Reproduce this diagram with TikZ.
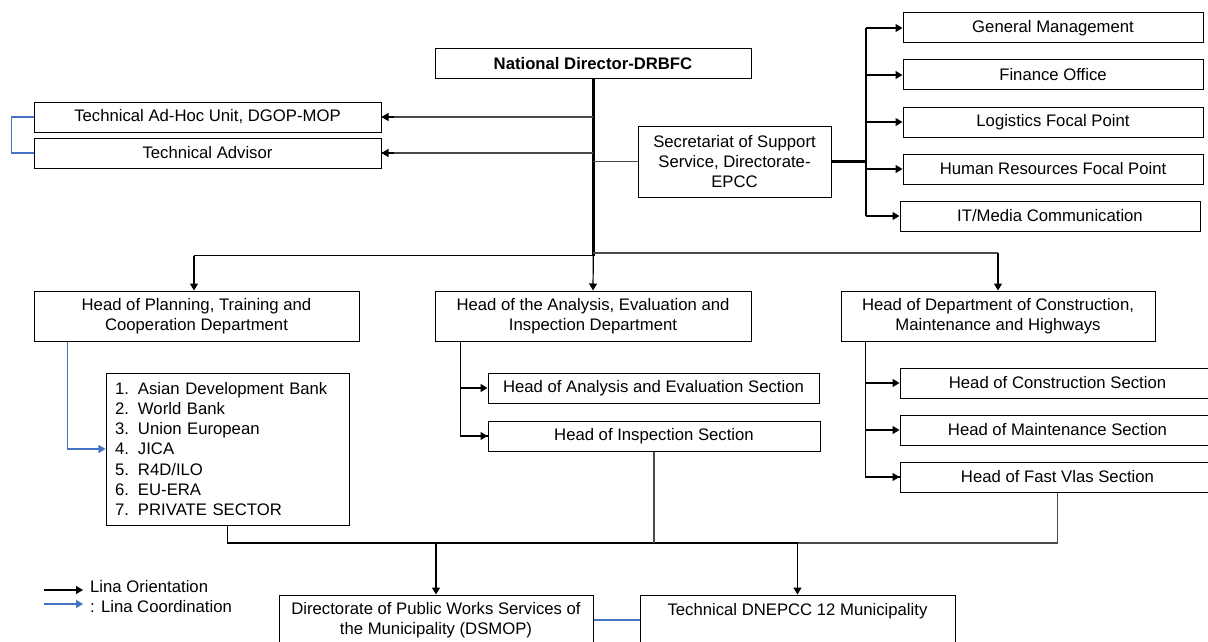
\documentclass[tikz,border=0pt]{standalone}
\usepackage{fontspec}
\setmainfont{Liberation Sans}
\usetikzlibrary{arrows.meta}
\definecolor{coordblue}{HTML}{4472C4}
\definecolor{linegray}{HTML}{4A4A4A}
\begin{document}
\begin{tikzpicture}[x=1pt,y=-1pt,
  font=\fontsize{16.7}{20.3}\selectfont,
  box/.style={draw=black, line width=1pt, rectangle, inner sep=0pt, align=center, fill=white},
  tip/.style={-{Triangle[length=7pt,width=8pt]}},
  orient/.style={draw=black, line width=1.2pt},
  soft/.style={draw=linegray, line width=1.2pt},
  heavy/.style={draw=black, line width=2.4pt},
  coord/.style={draw=coordblue, line width=1.2pt},
  coordtip/.style={-{Triangle[length=7pt,width=8pt]}, coordblue}
]
\clip (0,0) rectangle (1208,642);
\fill[white] (0,0) rectangle (1208,642);

% top level
\node[box, minimum width=316pt, minimum height=30pt] (director) at (593,64) {\textbf{National Director-DRBFC}};
\node[box, minimum width=347pt, minimum height=30pt] (adhoc) at (207.5,117) {Technical Ad-Hoc Unit, DGOP-MOP};
\node[box, minimum width=347pt, minimum height=30pt] (advisor) at (207.5,153) {Technical Advisor};
\node[box, minimum width=193pt, minimum height=71pt] (secret) at (734.5,161.5) {Secretariat of Support\\Service, Directorate-\\EPCC};

% support offices
\node[box, minimum width=300pt, minimum height=30pt] (gm) at (1053,28) {General Management};
\node[box, minimum width=300pt, minimum height=30pt] (fin) at (1053,75) {Finance Office};
\node[box, minimum width=300pt, minimum height=30pt] (logi) at (1053,122) {Logistics Focal Point};
\node[box, minimum width=300pt, minimum height=30pt] (hr) at (1053,169) {Human Resources Focal Point};
\node[box, minimum width=300pt, minimum height=30pt] (itm) at (1050,216) {IT/Media Communication};

% departments
\node[box, minimum width=325pt, minimum height=50pt] (planning) at (196.5,316) {Head of Planning, Training and\\Cooperation Department};
\node[box, minimum width=316pt, minimum height=50pt] (aeidept) at (593,316) {Head of the Analysis, Evaluation and\\Inspection Department};
\node[box, minimum width=314pt, minimum height=50pt] (cmhdept) at (998,316) {Head of Department of Construction,\\Maintenance and Highways};

% partners list
\node[box, minimum width=243pt, minimum height=152pt, text width=225pt, inner xsep=9pt, align=left] (partners) at (227.5,449)
  {\makebox[23pt][l]{1.}Asian Development Bank\\
   \makebox[23pt][l]{2.}World Bank\\
   \makebox[23pt][l]{3.}Union European\\
   \makebox[23pt][l]{4.}JICA\\
   \makebox[23pt][l]{5.}R4D/ILO\\
   \makebox[23pt][l]{6.}EU-ERA\\
   \makebox[23pt][l]{7.}PRIVATE SECTOR};

% sections
\node[box, minimum width=331pt, minimum height=30pt] (aesec) at (653.5,388) {Head of Analysis and Evaluation Section};
\node[box, minimum width=332pt, minimum height=30pt] (inssec) at (654,436) {Head of Inspection Section};
\node[box, minimum width=315pt, minimum height=30pt] (consec) at (1057.5,383) {Head of Construction Section};
\node[box, minimum width=315pt, minimum height=30pt] (mntsec) at (1057.5,430) {Head of Maintenance Section};
\node[box, minimum width=315pt, minimum height=30pt] (fvsec) at (1057.5,477) {Head of Fast Vlas Section};

% municipal level
\node[box, minimum width=314pt, minimum height=50pt] (dsmop) at (436,620) {Directorate of Public Works Services of\\the Municipality (DSMOP)};
\node[box, minimum width=315pt, minimum height=50pt] (dnepcc) at (797.5,620) {Technical DNEPCC 12 Municipality\\\mbox{}};

% director trunk and staff links
\coordinate (trunk) at (593.3,256);
\draw[heavy] (director.south -| trunk) -- (trunk);
\draw[soft] (593.3,117) -- (adhoc.east);
\draw[soft] (593.3,153) -- (advisor.east);
\draw[tip, orient] (adhoc.east) ++(12,0) -- (adhoc.east);
\draw[tip, orient] (advisor.east) ++(12,0) -- (advisor.east);
\draw[soft] (593.3,161.5) -- (secret.west);
\draw[coord] (adhoc.west) -- ++(-22,0) |- (advisor.west);

% support offices fan-out
\coordinate (sfan) at (866,161.5);
\draw[heavy] (secret.east) -- (sfan);
\draw[orient] (866,28) -- (866,216);
\foreach \b in {gm,fin,logi,hr,itm}
  \draw[tip, orient] (\b.west -| sfan) -- (\b.west);

% departments bus
\draw[orient] (194,255.5) -- (593.3,255.5);
\draw[soft] (593.3,253) -- (998,253);
\draw[tip, orient] (194,255.5) -- (194,290.5);
\draw[tip, orient] (593.3,255.5) -- (aeidept.north);
\draw[tip, orient] (998,253) -- (cmhdept.north);

% coordination with partners
\draw[coord] ([xshift=33.7pt]planning.south west) |- ([xshift=-7pt]partners.west);
\draw[coordtip] ([xshift=-8pt]partners.west) -- (partners.west);

% analysis branch
\coordinate (aeline) at ([xshift=25.7pt]aeidept.south west);
\draw[orient] (aeline) |- (inssec.west);
\draw[tip, orient] (aeline |- aesec.west) -- (aesec.west);
\draw[tip, orient] (aeline |- inssec.west) -- (inssec.west);

% construction branch
\coordinate (cmline) at ([xshift=25pt]cmhdept.south west);
\draw[orient] (cmline) |- (fvsec.west);
\draw[tip, orient] (cmline |- consec.west) -- (consec.west);
\draw[tip, orient] (cmline |- mntsec.west) -- (mntsec.west);
\draw[tip, orient] (cmline |- fvsec.west) -- (fvsec.west);

% municipal bus
\coordinate (mbus) at (227.5,543);
\draw[heavy, line width=1.8pt] (partners.south) -- (mbus) -- (797.5,543);
\draw[soft] (797.5,543) -- (fvsec.south |- mbus) -- (fvsec.south);
\draw[soft] (inssec.south) -- (inssec.south |- mbus);
\draw[tip, orient] (dsmop.north |- mbus) -- (dsmop.north);
\draw[tip, orient] (dnepcc.north |- mbus) -- (dnepcc.north);
\draw[coord] (dsmop.east) -- (dnepcc.west);

% legend
\coordinate (lgA) at (43.5,590);
\coordinate (lgB) at (83,590);
\coordinate (lgC) at (43.5,604);
\coordinate (lgD) at (83,604);
\draw[tip, orient] (lgA) -- (lgB);
\draw[coordtip, coord] (lgC) -- (lgD);
\node[anchor=west, inner sep=0pt] (lgorient) at (90,587) {Lina Orientation};
\node[anchor=west, inner sep=0pt] (lgcoord) at (90,607) {: Lina Coordination};
\end{tikzpicture}
\end{document}
